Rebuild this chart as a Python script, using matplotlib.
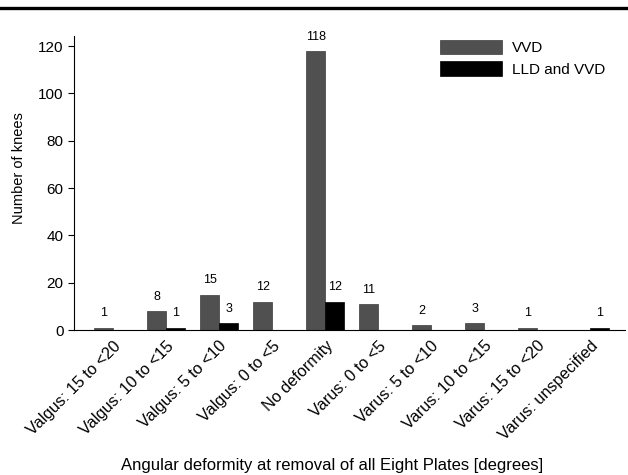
import matplotlib
matplotlib.use('Agg')
import matplotlib.pyplot as plt
from matplotlib.lines import Line2D
import numpy as np

plt.rcParams['font.family'] = ['Liberation Sans', 'DejaVu Sans']

categories = ['Valgus: 15 to <20', 'Valgus: 10 to <15', 'Valgus: 5 to <10',
              'Valgus: 0 to <5', 'No deformity', 'Varus: 0 to <5',
              'Varus: 5 to <10', 'Varus: 10 to <15', 'Varus: 15 to <20',
              'Varus: unspecified']
vvd = [1, 8, 15, 12, 118, 11, 2, 3, 1, 0]
lld_vvd = [0, 1, 3, 0, 12, 0, 0, 0, 0, 1]
yticks = [0, 20, 40, 60, 80, 100, 120]

fig = plt.figure(figsize=(6.28, 4.75), dpi=100)
ax = fig.add_axes([74/628, 1 - 330/475, (625 - 74)/628, (330 - 36)/475])

x = np.arange(len(categories))
w = 0.36
b1 = ax.bar(x - w/2, vvd, w, color='#505050', edgecolor='#3a3a3a', linewidth=0.5, label='VVD')
b2 = ax.bar(x + w/2, lld_vvd, w, color='black', edgecolor='black', linewidth=0.5, label='LLD and VVD')

ax.bar_label(b1, labels=[str(v) if v else '' for v in vvd], padding=6, fontsize=9)
ax.bar_label(b2, labels=[str(v) if v else '' for v in lld_vvd], padding=6, fontsize=9)

ax.set_xlim(-0.74, 9.66)
ax.set_ylim(0, 124.3)
ax.set_yticks(yticks)
ax.set_xticks(x)
ax.set_xticklabels(categories, rotation=45, ha='right', va='top', rotation_mode='anchor', fontsize=11.7)
ax.tick_params(axis='x', length=0, pad=6)
ax.tick_params(axis='y', length=4.5, width=0.8, labelsize=11, pad=3)

for s in ['top', 'right']:
    ax.spines[s].set_visible(False)
for s in ['left', 'bottom']:
    ax.spines[s].set_linewidth(0.8)

ax.set_ylabel('Number of knees', fontsize=10.5)
ax.yaxis.set_label_coords(-0.088, 0.55)
ax.set_xlabel('Angular deformity at removal of all Eight Plates [degrees]', fontsize=12)
ax.xaxis.set_label_coords(0.468, -0.435)

ax.legend(loc='upper left', bbox_to_anchor=(440/628, 1 - 40/475), bbox_transform=fig.transFigure,
          frameon=False, fontsize=11, handlelength=4.05, handleheight=1.05,
          labelspacing=0.4, handletextpad=0.65, borderpad=0, borderaxespad=0)

fig.add_artist(Line2D([0, 1], [1 - 8/475, 1 - 8/475], color='black', lw=2.4))

fig.savefig('out.png', dpi=100)
